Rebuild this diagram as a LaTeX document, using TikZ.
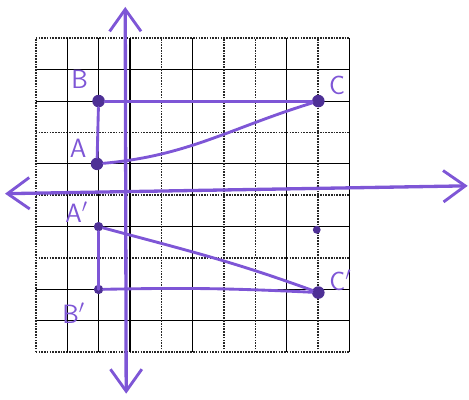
\documentclass[tikz,border=0pt]{standalone}
\usepackage{tikz}
\usetikzlibrary{arrows.meta,positioning}
\definecolor{pen}{RGB}{126,86,214}
\definecolor{ink}{RGB}{78,48,150}

\begin{document}
\begin{tikzpicture}[x=1cm,y=1cm,
    gridsolid/.style={black,line width=1pt},
    griddot/.style={black!85,line width=1.5pt,densely dotted},
    penline/.style={pen,line width=2.6pt,line cap=round},
    axisline/.style={pen,line width=3pt,line cap=round,{Straight Barb[length=7mm,width=10mm,line width=2.6pt]}-{Straight Barb[length=7mm,width=10mm,line width=2.6pt]}},
    every node/.style={circle,fill=ink,inner sep=0pt,minimum size=4mm,
      label distance=0pt},
    lbl/.style={pen,fill=none,font=\sffamily\fontsize{24}{24}\selectfont,inner sep=0pt,minimum size=0pt}]
  \useasboundingbox (-4.14,-6.52) rectangle (10.80,6.22);
  % grid
  \foreach \y in {4,3,1,-1,-3,-4} \draw[gridsolid] (-3,\y) -- (7,\y);
  \foreach \y in {5,2,0,-2,-5} \draw[griddot] (-3,\y) -- (7,\y);
  \foreach \x in {-2,-1,0,2,5,7} \draw[gridsolid] (\x,-5) -- (\x,5);
  \foreach \x in {-3,1,3,4,6} \draw[griddot] (\x,-5) -- (\x,5);
  % axes
  \coordinate (xl) at (-3.98,0.05);
  \coordinate (xr) at (10.76,0.3);
  \coordinate (yt) at (-0.15,6.0);
  \coordinate (yb) at (-0.12,-6.32);
  \draw[axisline] (xl) -- (xr);
  \draw[axisline] (yb) -- (yt);
  % points
  \node[label={[lbl,xshift=-6mm,yshift=1mm]above:B}] (B) at (-1,3) {};
  \node[label={[lbl,xshift=-6mm,yshift=-1mm]above:A}] (A) at (-1.05,1) {};
  \node[label={[lbl,xshift=6mm,yshift=-1mm]above:C}] (C) at (6,3) {};
  \node[minimum size=3mm,label={[lbl,xshift=-7mm,yshift=-2mm]above:A$'$}] (A1) at (-1,-1) {};
  \node[minimum size=3mm,label={[lbl,xshift=-8mm,yshift=-1mm]below:B$'$}] (B1) at (-1,-3) {};
  \node[label={[lbl,xshift=7mm,yshift=-3mm]above:C$'$}] (C1) at (6,-3.1) {};
  \node[minimum size=2.5mm] (D) at (5.95,-1.1) {};
  % figure and image
  \draw[penline] (B) -- (C);
  \draw[penline] (B) -- (A);
  \draw[penline] (A) to[out=5,in=197] (C);
  \draw[penline] (A1) -- (A1 |- B1);
  \draw[penline] (B1) to[bend left=2] (C1);
  \draw[penline] (A1) to[out=-15,in=160] (C1);
\end{tikzpicture}
\end{document}
